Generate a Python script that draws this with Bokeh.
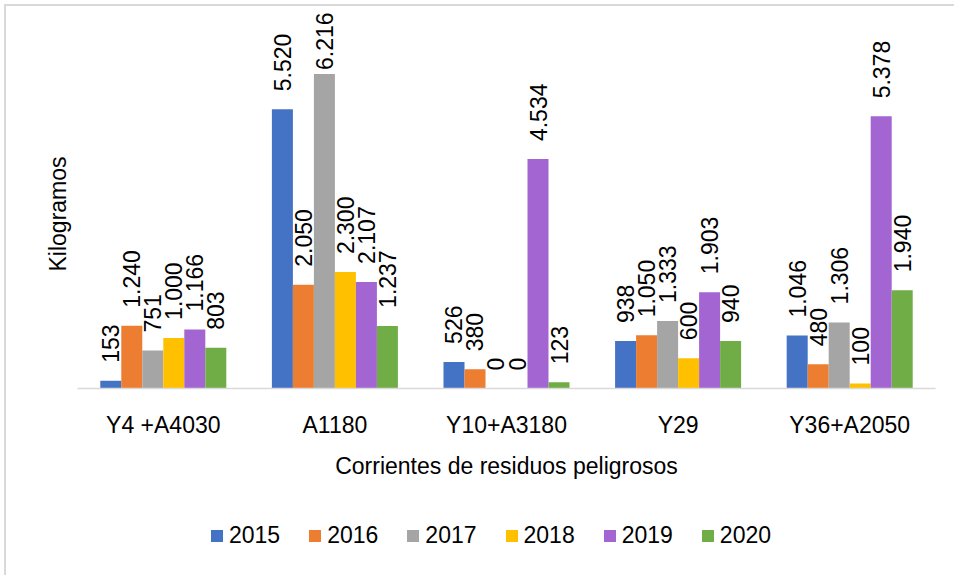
from bokeh.plotting import figure
from bokeh.models import ColumnDataSource, FactorRange, Range1d, Legend, LegendItem, Title
from bokeh.layouts import column
from bokeh.transform import dodge
from bokeh.core.properties import value
from bokeh.embed import file_html
from bokeh.resources import INLINE

categories = ["Y4 +A4030", "A1180", "Y10+A3180", "Y29", "Y36+A2050"]
years = ["2015", "2016", "2017", "2018", "2019", "2020"]
v2015 = [153, 5520, 526, 938, 1046]
v2016 = [1240, 2050, 380, 1050, 480]
v2017 = [751, 6216, 0, 1333, 1306]
v2018 = [1000, 2300, 0, 600, 100]
v2019 = [1166, 2107, 4534, 1903, 5378]
v2020 = [803, 1237, 123, 940, 1940]
series = [v2015, v2016, v2017, v2018, v2019, v2020]
colors = ["#4472C4", "#ED7D31", "#A5A5A5", "#FFC000", "#A365D1", "#70AD47"]
y_axis_title = "Kilogramos"
x_axis_title = "Corrientes de residuos peligrosos"

FONT = "Liberation Sans"
FS_PX = 23
FS = f"{FS_PX}px"
FRAME_W = 858
FRAME_H = 378
Y_END = 7470
px_per_unit = FRAME_H / Y_END
BAR_W = 0.1224
LABEL_GAP = 18
TOP_LIMIT = 2


def fmt(v):
    return f"{v:,}".replace(",", ".")


def text_len(s):
    return sum((0.278 if c == "." else 0.556) for c in s) * FS_PX


p = figure(
    x_range=FactorRange(*categories, range_padding=0),
    y_range=Range1d(0, Y_END),
    frame_width=FRAME_W,
    frame_height=FRAME_H,
    min_border_top=10,
    min_border_left=77,
    min_border_right=19,
    min_border_bottom=100,
    output_backend="svg",
    toolbar_location=None,
    outline_line_color=None,
    background_fill_alpha=0,
    border_fill_alpha=0,
)

for i, (yr, vals, col) in enumerate(zip(years, series, colors)):
    off = (i - 2.5) * BAR_W
    texts = [fmt(v) for v in vals]
    yoffs = []
    for v, t in zip(vals, texts):
        room = (Y_END - v) * px_per_unit - TOP_LIMIT - text_len(t)
        yoffs.append(-min(LABEL_GAP, room))
    src = ColumnDataSource(dict(cat=categories, val=vals, txt=texts, yoff=yoffs))
    p.vbar(x=dodge("cat", off, range=p.x_range), top="val", bottom=0,
           width=BAR_W, source=src, fill_color=col, line_color=None)
    p.text(x=dodge("cat", off, range=p.x_range), y="val", text="txt", source=src,
           angle=1.5707963, text_align="left", text_baseline="middle",
           y_offset="yoff", text_font=value(FONT), text_font_size=FS,
           text_color="black")

p.xgrid.visible = False
p.ygrid.visible = False

xa = p.xaxis[0]
xa.axis_line_color = "#d9d9d9"
xa.axis_line_width = 1.5
xa.major_tick_line_color = None
xa.minor_tick_line_color = None
xa.major_tick_out = 0
xa.major_label_standoff = 23
xa.major_label_text_font = FONT
xa.major_label_text_font_size = FS
xa.major_label_text_color = "black"
xa.axis_label = x_axis_title
xa.axis_label_text_font = FONT
xa.axis_label_text_font_size = FS
xa.axis_label_text_font_style = "normal"
xa.axis_label_text_color = "black"
xa.axis_label_standoff = 12

p.yaxis.visible = False

ytitle = Title(text=y_axis_title, align="left", offset=117, standoff=13,
               text_font=FONT, text_font_size=FS, text_font_style="normal",
               text_color="black")
p.add_layout(ytitle, "left")

# legend strip below the chart
pl = figure(
    width=954, height=87,
    x_range=Range1d(0, 1), y_range=Range1d(0, 1),
    min_border=0, min_border_left=0, min_border_right=0,
    min_border_top=0, min_border_bottom=0,
    output_backend="svg", toolbar_location=None,
    outline_line_color=None, background_fill_alpha=0,
    border_fill_alpha=0,
)
pl.xaxis.visible = False
pl.yaxis.visible = False
pl.xgrid.visible = False
pl.ygrid.visible = False

items = []
for yr, vals, col in zip(years, series, colors):
    r = pl.vbar(x=list(range(len(vals))), top=vals, bottom=0, width=0.5,
                fill_color=col, line_color=None, visible=False)
    items.append(LegendItem(label=yr, renderers=[r]))

legend = Legend(
    items=items,
    orientation="horizontal",
    location=(132, 26),
    padding=0,
    margin=0,
    spacing=27,
    label_standoff=5,
    glyph_width=15,
    glyph_height=15,
    label_height=23,
    label_text_font=FONT,
    label_text_font_size=FS,
    label_text_color="black",
    border_line_color=None,
    background_fill_alpha=0,
    inactive_fill_alpha=0,
)
pl.add_layout(legend)

layout = column(p, pl, spacing=0)
layout.styles = {
    "background-color": "white",
    "box-shadow": "inset 4px 4px 0 0 #ffffff, inset 6px 6px 0 0 #d9d9d9",
}
open("out.html", "w").write(file_html(layout, INLINE))
